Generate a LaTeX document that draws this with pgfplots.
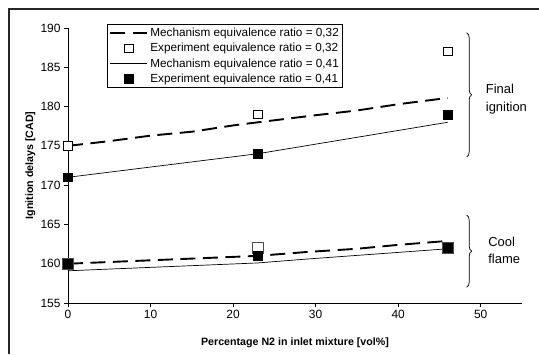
\documentclass[border=0pt]{standalone}
\usepackage{pgfplots}
\pgfplotsset{compat=1.18}
\usepackage{fontspec}
\setmainfont{Liberation Sans}
\usetikzlibrary{decorations.pathreplacing}
\begin{document}
\begin{tikzpicture}[x=1bp,y=1bp]
\begin{axis}[
  scale only axis, width=454bp, height=275bp,
  xmin=0, xmax=55, ymin=155, ymax=190,
  axis lines*=left,
  axis line style={line width=0.8bp},
  xtick={0,10,20,30,40,50},
  ytick={155,160,165,170,175,180,185,190},
  tick align=outside, major tick length=4bp,
  tick style={black, line width=0.8bp},
  tick label style={font=\fontsize{12}{14}\selectfont},
  /pgf/number format/assume math mode=true,
  xlabel={Percentage N2 in inlet mixture [vol\%]},
  ylabel={Ignition delays [CAD]},
  every axis x label/.style={at={(axis description cs:0.5,-0.145)}, anchor=center, font=\fontsize{10.7}{13}\selectfont\bfseries},
  every axis y label/.style={at={(axis description cs:-0.083,0.5)}, anchor=center, rotate=90, font=\fontsize{10.7}{13}\selectfont\bfseries},
  clip=false,
  legend style={at={(axis description cs:0.0859,1.0145)}, anchor=north west,
    draw=black, line width=0.8bp, font=\fontsize{11.8}{14}\selectfont,
    inner xsep=2bp, inner ysep=1.8bp, row sep=1.2bp},
  legend cell align=left,
  myleg/.style={legend image code/.code={\draw[mark repeat=2,mark phase=2,##1] plot coordinates {(0bp,0bp) (18.5bp,0bp) (37bp,0bp)};}},
]
\coordinate (O) at (rel axis cs:0,0);
% Mechanism 0.32 (dashed)
\addplot[myleg, black, line width=1.9bp, dash pattern=on 15bp off 7.5bp, no marks] coordinates {
 (0,175) (5,175.6) (10,176.3) (15,176.8) (20,177.6) (23,178) (30,178.9) (35,179.5) (40,180.3) (46,181.1)};
\addlegendentry{Mechanism equivalence ratio = 0,32}
% Experiment 0.32
\addplot[myleg, only marks, mark=square*, mark size=4.2bp, mark options={fill=white, draw=black, line width=0.8bp}] coordinates {
 (0,175) (23,179) (46,187)};
\addlegendentry{Experiment equivalence ratio = 0,32}
% Mechanism 0.41 (solid)
\addplot[myleg, black, line width=0.7bp, no marks] coordinates {
 (0,171) (23,174) (46,178)};
\addlegendentry{Mechanism equivalence ratio = 0,41}
% Experiment 0.41
\addplot[myleg, only marks, mark=square*, mark size=4.4bp, mark options={fill=black, draw=black}] coordinates {
 (0,171) (23,174) (46,179)};
\addlegendentry{Experiment equivalence ratio = 0,41}
% Cool flame
\addplot[forget plot, black, line width=1.9bp, dash pattern=on 15bp off 7.5bp, no marks] coordinates {
 (0,160) (11.5,160.5) (23,161) (29,161.5) (35,161.9) (40,162.4) (46,162.9)};
\addplot[forget plot, only marks, mark=square*, mark size=5.5bp, mark options={fill=white, draw=black!70, line width=0.8bp}] coordinates {
 (0,160) (23,162) (46,162)};
\addplot[forget plot, black, line width=0.7bp, no marks] coordinates {
 (0,159.1) (11.5,159.6) (23,160.1) (29,160.6) (46,161.9)};
\addplot[forget plot, only marks, mark=square*, mark size=4.4bp, mark options={fill=black, draw=black}] coordinates {
 (0,160) (23,161) (46,162)};
% braces
\draw[decorate, decoration={brace, amplitude=5bp}, line width=0.7bp] (axis cs:48.3,189.4) -- (axis cs:48.3,173.6);
\draw[decorate, decoration={brace, amplitude=5bp}, line width=0.7bp] (axis cs:48.3,166.2) -- (axis cs:48.3,157.0);
\node[anchor=west, align=left, font=\fontsize{13}{18}\selectfont, inner sep=0pt] at (axis cs:50.6,181.0) {Final\\ignition};
\node[anchor=west, align=left, font=\fontsize{13}{18}\selectfont, inner sep=0pt] at (axis cs:50.9,161.7) {Cool\\flame};
\end{axis}
\draw[line width=1.5bp, black!85] (O) ++(-59,-51) -- ++(0,345) -- ++(530,0);
\pgfresetboundingbox
\path[use as bounding box] (O) ++(-68,-51) rectangle ++(539,354);
\end{tikzpicture}
\end{document}
